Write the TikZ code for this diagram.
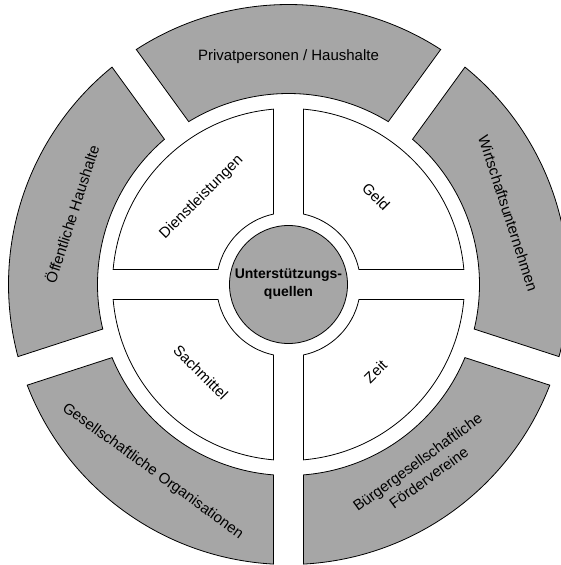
\documentclass[tikz,border=0pt]{standalone}
\usepackage{fontspec}
\setmainfont{Liberation Sans}
\definecolor{segfill}{RGB}{166,166,166}
\newcommand\gaph{15}
\newcommand\ringseg[5]{%
  \pgfmathsetmacro\rsA{#1+asin(\gaph/#4)}%
  \pgfmathsetmacro\rsB{#2-asin(\gaph/#4)}%
  \pgfmathsetmacro\rsC{#2-asin(\gaph/#3)}%
  \pgfmathsetmacro\rsD{#1+asin(\gaph/#3)}%
  \draw[#5] (\rsA:#4pt) arc[start angle=\rsA, end angle=\rsB, radius=#4pt]
    -- (\rsC:#3pt) arc[start angle=\rsC, end angle=\rsD, radius=#3pt] -- cycle;%
}
\begin{document}
\begin{tikzpicture}[x=1pt,y=1pt,
  outerseg/.style={draw=black, line width=0.8pt, fill=segfill},
  innerseg/.style={draw=black, line width=0.8pt, fill=white},
  lbl/.style={inner sep=0pt, align=center, font=\fontsize{15}{19}\selectfont},
  corelbl/.style={circle, draw=black, line width=0.8pt, fill=segfill, minimum size=118pt,
    inner sep=0pt, align=center, font=\fontsize{14}{18}\selectfont\bfseries}]
\useasboundingbox (-288.5,-280.5) rectangle (272.5,284.5);
\clip (-288.5,-280.5) rectangle (272.5,284.5);
% outer ring (five segments)
\ringseg{54}{126}{191}{280}{outerseg}
\ringseg{-18}{54}{191}{280}{outerseg}
\ringseg{-90}{-18}{191}{280}{outerseg}
\ringseg{198}{270}{191}{280}{outerseg}
\ringseg{126}{198}{191}{280}{outerseg}
% inner ring (four quadrants)
\ringseg{0}{90}{72}{176}{innerseg}
\ringseg{90}{180}{72}{176}{innerseg}
\ringseg{180}{270}{72}{176}{innerseg}
\ringseg{270}{360}{72}{176}{innerseg}
% centre
\node[corelbl] (core) at (0,0) {Unterstützungs-\\quellen};
% outer labels
\node[lbl] (priv) at (90:228pt) {Privatpersonen / Haushalte};
\node[lbl, rotate=-72] (wirt) at (18:231pt) {Wirtschaftsunternehmen};
\node[lbl, rotate=36] (buerg) at (-54:229pt) {Bürgergesellschaftliche\\Fördervereine};
\node[lbl, rotate=-36] (gesorg) at (234:231pt) {Gesellschaftliche Organisationen};
\node[lbl, rotate=72] (oeff) at (162:228pt) {Öffentliche Haushalte};
% inner labels
\node[lbl, rotate=45] (dienst) at (135:123pt) {Dienstleistungen};
\node[lbl, rotate=-45] (geld) at (45:124pt) {Geld};
\node[lbl, rotate=45] (zeit) at (-45:123pt) {Zeit};
\node[lbl, rotate=-45] (sach) at (225:124pt) {Sachmittel};
\end{tikzpicture}
\end{document}
